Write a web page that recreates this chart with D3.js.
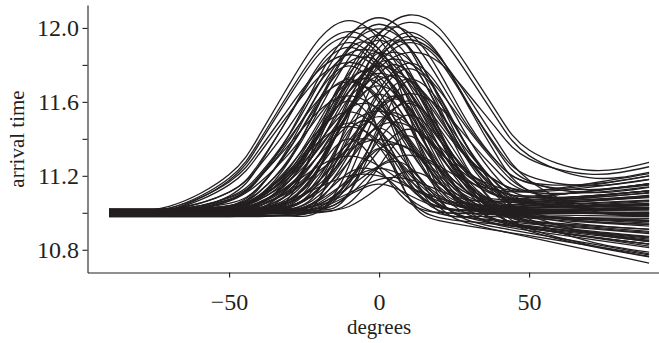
<!DOCTYPE html>
<html>
<head>
<meta charset="utf-8">
<script src="https://cdn.jsdelivr.net/npm/d3@7"></script>
<style>
  body { margin: 0; background: #fff; }
  text { font-family: "Liberation Serif", "Times New Roman", serif; fill: #231f20; }
</style>
</head>
<body>
<script>
const degrees = [-90, -70, -50, -40, -30, -20, -10, 0, 10, 20, 30, 40, 50, 70, 90];

// curves grouped by where their peak sits
const peakMinus10 = [
  [11.011, 11.035, 11.207, 11.417, 11.692, 11.939, 12.040, 11.939, 11.692, 11.421, 11.216, 11.101, 11.053, 11.037, 11.045],
  [11.001, 11.024, 11.187, 11.387, 11.649, 11.884, 11.980, 11.884, 11.649, 11.402, 11.217, 11.119, 11.084, 11.091, 11.120],
  [10.993, 11.015, 11.175, 11.371, 11.628, 11.858, 11.952, 11.858, 11.628, 11.355, 11.143, 11.017, 10.951, 10.897, 10.864],
  [11.006, 11.025, 11.167, 11.341, 11.568, 11.772, 11.855, 11.772, 11.568, 11.363, 11.211, 11.136, 11.113, 11.138, 11.181],
  [10.995, 11.014, 11.151, 11.318, 11.537, 11.734, 11.814, 11.734, 11.537, 11.311, 11.137, 11.035, 10.986, 10.953, 10.938],
  [10.990, 10.997, 11.091, 11.257, 11.525, 11.800, 11.920, 11.800, 11.525, 11.247, 11.071, 10.989, 10.957, 10.930, 10.910],
  [11.015, 11.021, 11.111, 11.268, 11.521, 11.781, 11.895, 11.781, 11.521, 11.266, 11.107, 11.036, 11.013, 11.003, 10.999],
  [10.988, 10.993, 11.066, 11.195, 11.402, 11.615, 11.708, 11.615, 11.402, 11.204, 11.084, 11.037, 11.029, 11.042, 11.060],
  [11.012, 11.016, 11.080, 11.190, 11.369, 11.552, 11.632, 11.552, 11.369, 11.166, 11.032, 10.959, 10.920, 10.868, 10.820],
  [10.995, 10.996, 11.030, 11.133, 11.361, 11.653, 11.795, 11.653, 11.361, 11.112, 10.989, 10.939, 10.914, 10.871, 10.830],
  [11.020, 11.021, 11.051, 11.140, 11.341, 11.596, 11.720, 11.596, 11.341, 11.140, 11.051, 11.026, 11.021, 11.020, 11.020],
  [10.996, 10.997, 11.020, 11.091, 11.248, 11.449, 11.546, 11.449, 11.248, 11.094, 11.026, 11.009, 11.009, 11.014, 11.020],
  [11.016, 11.016, 11.036, 11.093, 11.222, 11.386, 11.466, 11.386, 11.222, 11.084, 11.018, 10.993, 10.980, 10.962, 10.944],
  [11.006, 11.006, 11.019, 11.058, 11.143, 11.253, 11.306, 11.253, 11.143, 11.063, 11.029, 11.023, 11.026, 11.036, 11.046],
  [11.005, 11.005, 11.010, 11.047, 11.189, 11.451, 11.605, 11.451, 11.189, 11.041, 10.999, 10.988, 10.983, 10.971, 10.960],
  [10.985, 10.985, 10.990, 11.020, 11.138, 11.357, 11.485, 11.357, 11.138, 11.033, 11.016, 11.024, 11.037, 11.063, 11.089],
  [11.000, 11.000, 11.000, 11.004, 11.054, 11.243, 11.400, 11.243, 11.054, 11.002, 10.995, 10.993, 10.990, 10.985, 10.980],
  [10.980, 10.980, 10.980, 10.988, 11.081, 11.435, 11.730, 11.435, 11.081, 10.974, 10.952, 10.938, 10.924, 10.896, 10.868]
];

const peakMinus5 = [
  [11.002, 11.005, 11.063, 11.185, 11.423, 11.734, 11.968, 11.968, 11.734, 11.431, 11.201, 11.087, 11.049, 11.050, 11.066],
  [11.005, 11.015, 11.112, 11.252, 11.465, 11.702, 11.862, 11.862, 11.702, 11.482, 11.286, 11.163, 11.111, 11.109, 11.140],
  [11.008, 11.008, 11.025, 11.092, 11.279, 11.601, 11.884, 11.884, 11.601, 11.269, 11.072, 10.995, 10.971, 10.948, 10.928],
  [10.984, 10.987, 11.036, 11.141, 11.346, 11.614, 11.815, 11.815, 11.614, 11.327, 11.103, 10.979, 10.921, 10.870, 10.832],
  [10.990, 10.990, 10.992, 11.011, 11.112, 11.391, 11.715, 11.715, 11.391, 11.128, 11.043, 11.040, 11.054, 11.086, 11.118],
  [11.010, 11.010, 11.024, 11.076, 11.222, 11.474, 11.695, 11.695, 11.474, 11.234, 11.100, 11.060, 11.060, 11.082, 11.106],
  [10.994, 10.994, 11.005, 11.049, 11.171, 11.381, 11.565, 11.565, 11.381, 11.166, 11.039, 10.990, 10.976, 10.964, 10.954],
  [11.016, 11.016, 11.016, 11.017, 11.046, 11.237, 11.616, 11.616, 11.237, 11.043, 11.011, 11.007, 11.004, 10.998, 10.992],
  [11.006, 11.006, 11.006, 11.007, 11.028, 11.169, 11.447, 11.447, 11.169, 11.030, 11.011, 11.012, 11.014, 11.018, 11.022],
  [10.980, 10.980, 10.980, 10.980, 10.984, 11.075, 11.433, 11.433, 11.075, 10.958, 10.928, 10.902, 10.876, 10.824, 10.772],
  [11.003, 11.003, 11.004, 11.014, 11.066, 11.209, 11.375, 11.375, 11.209, 11.072, 11.026, 11.022, 11.027, 11.039, 11.051],
  [10.996, 10.996, 10.996, 10.997, 11.007, 11.077, 11.217, 11.217, 11.077, 10.995, 10.973, 10.960, 10.948, 10.924, 10.900],
  [11.010, 11.010, 11.014, 11.028, 11.069, 11.139, 11.200, 11.200, 11.139, 11.078, 11.046, 11.041, 11.047, 11.064, 11.082]
];

const peakZero = [
  [11.005, 11.011, 11.085, 11.206, 11.420, 11.700, 11.952, 12.055, 11.952, 11.719, 11.458, 11.263, 11.161, 11.125, 11.157],
  [11.000, 11.001, 11.032, 11.111, 11.293, 11.587, 11.888, 12.020, 11.888, 11.576, 11.271, 11.078, 10.988, 10.935, 10.912],
  [10.995, 11.001, 11.071, 11.186, 11.390, 11.657, 11.897, 11.995, 11.897, 11.631, 11.338, 11.108, 10.967, 10.845, 10.787],
  [11.010, 11.011, 11.039, 11.114, 11.283, 11.556, 11.837, 11.960, 11.837, 11.559, 11.288, 11.122, 11.049, 11.026, 11.030],
  [11.014, 11.014, 11.021, 11.054, 11.172, 11.435, 11.771, 11.934, 11.771, 11.448, 11.198, 11.093, 11.073, 11.092, 11.118],
  [10.988, 10.989, 11.015, 11.084, 11.241, 11.494, 11.754, 11.868, 11.754, 11.521, 11.294, 11.164, 11.121, 11.148, 11.200],
  [11.000, 11.000, 11.006, 11.035, 11.138, 11.366, 11.658, 11.800, 11.658, 11.360, 11.126, 11.017, 10.982, 10.964, 10.952],
  [11.012, 11.017, 11.071, 11.161, 11.320, 11.528, 11.716, 11.792, 11.716, 11.507, 11.278, 11.098, 10.987, 10.891, 10.844],
  [10.994, 10.995, 11.018, 11.077, 11.212, 11.431, 11.656, 11.754, 11.656, 11.402, 11.154, 10.990, 10.902, 10.821, 10.762],
  [11.018, 11.018, 11.018, 11.024, 11.068, 11.238, 11.554, 11.738, 11.554, 11.237, 11.066, 11.021, 11.014, 11.012, 11.010],
  [11.007, 11.007, 11.012, 11.037, 11.124, 11.318, 11.567, 11.687, 11.567, 11.323, 11.134, 11.052, 11.032, 11.037, 11.047],
  [10.992, 10.992, 10.992, 10.998, 11.038, 11.191, 11.476, 11.642, 11.476, 11.178, 11.012, 10.959, 10.940, 10.914, 10.888],
  [11.012, 11.012, 11.012, 11.012, 11.021, 11.127, 11.528, 11.862, 11.528, 11.134, 11.035, 11.033, 11.040, 11.054, 11.068],
  [10.990, 10.991, 11.007, 11.051, 11.151, 11.312, 11.478, 11.550, 11.478, 11.333, 11.193, 11.114, 11.091, 11.117, 11.158],
  [10.982, 10.982, 10.982, 10.982, 10.983, 11.008, 11.257, 11.582, 11.257, 11.007, 10.980, 10.978, 10.976, 10.973, 10.970],
  [11.020, 11.020, 11.020, 11.025, 11.055, 11.173, 11.392, 11.520, 11.392, 11.169, 11.047, 11.013, 11.004, 10.996, 10.988],
  [11.008, 11.008, 11.008, 11.008, 11.013, 11.069, 11.281, 11.458, 11.281, 11.034, 10.943, 10.903, 10.868, 10.798, 10.728],
  [10.996, 10.996, 11.008, 11.040, 11.111, 11.226, 11.344, 11.396, 11.344, 11.253, 11.165, 11.121, 11.116, 11.158, 11.212],
  [10.997, 10.997, 10.997, 10.997, 10.997, 11.012, 11.157, 11.347, 11.157, 11.012, 10.997, 10.997, 10.997, 10.997, 10.997],
  [10.990, 10.990, 10.990, 10.992, 11.008, 11.067, 11.176, 11.240, 11.176, 11.049, 10.972, 10.938, 10.918, 10.882, 10.846],
  [11.005, 11.005, 11.005, 11.005, 11.007, 11.025, 11.096, 11.155, 11.096, 11.028, 11.013, 11.014, 11.017, 11.023, 11.029]
];

const peakPlus5 = [
  [11.008, 11.008, 11.023, 11.069, 11.191, 11.429, 11.740, 11.974, 11.974, 11.764, 11.477, 11.263, 11.165, 11.155, 11.200],
  [10.998, 10.998, 11.001, 11.016, 11.084, 11.275, 11.604, 11.893, 11.893, 11.615, 11.297, 11.117, 11.060, 11.064, 11.086],
  [10.990, 10.990, 10.993, 11.007, 11.070, 11.250, 11.558, 11.828, 11.828, 11.546, 11.226, 11.034, 10.959, 10.918, 10.894],
  [10.992, 10.995, 11.029, 11.095, 11.229, 11.432, 11.658, 11.811, 11.811, 11.664, 11.444, 11.247, 11.119, 11.039, 11.041],
  [11.006, 11.006, 11.006, 11.008, 11.028, 11.132, 11.417, 11.749, 11.749, 11.411, 11.120, 11.010, 10.984, 10.970, 10.958],
  [11.004, 11.004, 11.015, 11.049, 11.139, 11.316, 11.546, 11.719, 11.719, 11.549, 11.322, 11.148, 11.061, 11.024, 11.028],
  [10.998, 10.998, 10.998, 11.000, 11.015, 11.095, 11.317, 11.574, 11.574, 11.296, 11.053, 10.952, 10.916, 10.872, 10.830],
  [10.986, 10.986, 10.986, 10.986, 10.987, 11.015, 11.201, 11.568, 11.568, 11.205, 11.023, 10.999, 11.002, 11.010, 11.018],
  [11.012, 11.012, 11.013, 11.021, 11.056, 11.154, 11.322, 11.469, 11.469, 11.332, 11.174, 11.086, 11.061, 11.072, 11.092],
  [11.010, 11.010, 11.010, 11.010, 11.010, 11.014, 11.106, 11.471, 11.471, 11.086, 10.974, 10.950, 10.930, 10.890, 10.850],
  [10.994, 10.994, 10.994, 10.995, 11.004, 11.054, 11.189, 11.347, 11.347, 11.190, 11.056, 11.007, 10.999, 11.000, 11.002],
  [11.002, 11.002, 11.002, 11.002, 11.003, 11.014, 11.093, 11.249, 11.249, 11.065, 10.958, 10.919, 10.890, 10.834, 10.778],
  [11.014, 11.014, 11.014, 11.014, 11.019, 11.042, 11.107, 11.181, 11.181, 11.120, 11.068, 11.058, 11.066, 11.092, 11.118]
];

const peakPlus10 = [
  [11.000, 11.001, 11.026, 11.081, 11.204, 11.423, 11.708, 11.965, 12.070, 11.999, 11.776, 11.525, 11.340, 11.230, 11.273],
  [11.010, 11.011, 11.034, 11.088, 11.205, 11.413, 11.685, 11.930, 12.030, 11.956, 11.737, 11.491, 11.309, 11.190, 11.219],
  [10.996, 10.996, 11.003, 11.026, 11.103, 11.277, 11.560, 11.850, 11.976, 11.854, 11.568, 11.289, 11.119, 11.027, 11.028],
  [10.994, 10.994, 11.001, 11.024, 11.099, 11.270, 11.546, 11.830, 11.954, 11.848, 11.582, 11.324, 11.171, 11.109, 11.138],
  [11.016, 11.017, 11.038, 11.086, 11.192, 11.379, 11.625, 11.846, 11.936, 11.842, 11.617, 11.367, 11.176, 11.014, 10.985],
  [11.020, 11.020, 11.026, 11.048, 11.118, 11.278, 11.538, 11.804, 11.920, 11.824, 11.578, 11.338, 11.198, 11.146, 11.180],
  [11.008, 11.009, 11.029, 11.073, 11.172, 11.348, 11.577, 11.784, 11.868, 11.814, 11.637, 11.438, 11.292, 11.209, 11.249],
  [10.990, 10.990, 10.991, 10.997, 11.026, 11.131, 11.366, 11.665, 11.810, 11.680, 11.396, 11.176, 11.086, 11.081, 11.110],
  [11.000, 11.000, 11.001, 11.006, 11.034, 11.134, 11.357, 11.642, 11.780, 11.634, 11.341, 11.110, 11.002, 10.953, 10.936],
  [11.004, 11.004, 11.005, 11.010, 11.036, 11.128, 11.334, 11.597, 11.724, 11.602, 11.343, 11.142, 11.054, 11.032, 11.040],
  [10.984, 10.984, 10.989, 11.004, 11.056, 11.173, 11.364, 11.559, 11.644, 11.573, 11.392, 11.215, 11.112, 11.073, 11.096],
  [10.985, 10.985, 10.985, 10.985, 10.991, 11.028, 11.175, 11.446, 11.605, 11.430, 11.143, 10.980, 10.927, 10.889, 10.857],
  [11.012, 11.012, 11.013, 11.017, 11.038, 11.112, 11.278, 11.489, 11.592, 11.458, 11.216, 11.019, 10.914, 10.827, 10.764],
  [11.010, 11.010, 11.010, 11.010, 11.015, 11.046, 11.169, 11.397, 11.530, 11.396, 11.167, 11.042, 11.010, 11.003, 11.000],
  [11.002, 11.002, 11.002, 11.002, 11.006, 11.034, 11.140, 11.337, 11.452, 11.341, 11.152, 11.052, 11.028, 11.038, 11.050],
  [10.996, 10.996, 10.996, 10.996, 10.996, 11.001, 11.053, 11.251, 11.416, 11.228, 11.007, 10.932, 10.904, 10.858, 10.812],
  [11.014, 11.014, 11.014, 11.014, 11.014, 11.022, 11.109, 11.439, 11.714, 11.456, 11.143, 11.073, 11.082, 11.116, 11.150],
  [10.992, 10.992, 10.992, 10.995, 11.006, 11.047, 11.139, 11.255, 11.312, 11.240, 11.109, 11.002, 10.946, 10.902, 10.872],
  [11.004, 11.004, 11.004, 11.004, 11.004, 11.006, 11.034, 11.138, 11.224, 11.157, 11.072, 11.063, 11.080, 11.118, 11.156]
];

const xTicks = [-50, 0, 50];
const yTicks = [10.8, 11.0, 11.2, 11.4, 11.6, 11.8, 12.0];
const yLabelled = [10.8, 11.2, 11.6, 12.0];

const width = 659, height = 343;
const ink = "#231f20";

const svg = d3.select("body")
  .append("svg")
  .attr("width", width)
  .attr("height", height);

const x = d3.scaleLinear().domain([-97.2, 97.2]).range([87.5, 670.7]);
const y = d3.scaleLinear().domain([10.677, 12.124]).range([272.5, 5]);

const allCurves = [].concat(peakMinus10, peakMinus5, peakZero, peakPlus5, peakPlus10);

const line = d3.line()
  .x((d, i) => x(degrees[i]))
  .y(d => y(d))
  .curve(d3.curveNatural);

svg.append("g")
  .selectAll("path")
  .data(allCurves)
  .enter()
  .append("path")
  .attr("d", line)
  .attr("fill", "none")
  .attr("stroke", ink)
  .attr("stroke-width", 1.3);

// axes
const xAxis = svg.append("g")
  .attr("transform", `translate(0,${y.range()[0]})`)
  .call(d3.axisBottom(x).tickValues(xTicks).tickSize(5).tickSizeOuter(0).tickPadding(15.5));

const yAxis = svg.append("g")
  .attr("transform", `translate(${x.range()[0]},0)`)
  .call(
    d3.axisLeft(y)
      .tickValues(yTicks)
      .tickSize(5)
      .tickSizeOuter(0)
      .tickPadding(3.5)
      .tickFormat(d => (yLabelled.some(v => Math.abs(v - d) < 1e-6) ? d3.format(".1f")(d) : ""))
  );

[xAxis, yAxis].forEach(g => {
  g.select(".domain").attr("stroke", ink).attr("stroke-width", 1.1);
  g.selectAll(".tick line").attr("stroke", ink).attr("stroke-width", 1.1);
  g.selectAll(".tick text").attr("fill", ink).style("font-size", "24px").attr("font-family", null);
});

// axis titles
svg.append("text")
  .attr("x", x(0))
  .attr("y", 334)
  .attr("text-anchor", "middle")
  .style("font-size", "21px")
  .text("degrees");

svg.append("text")
  .attr("transform", "translate(24,139) rotate(-90)")
  .attr("text-anchor", "middle")
  .style("font-size", "21px")
  .text("arrival time");
</script>
</body>
</html>
